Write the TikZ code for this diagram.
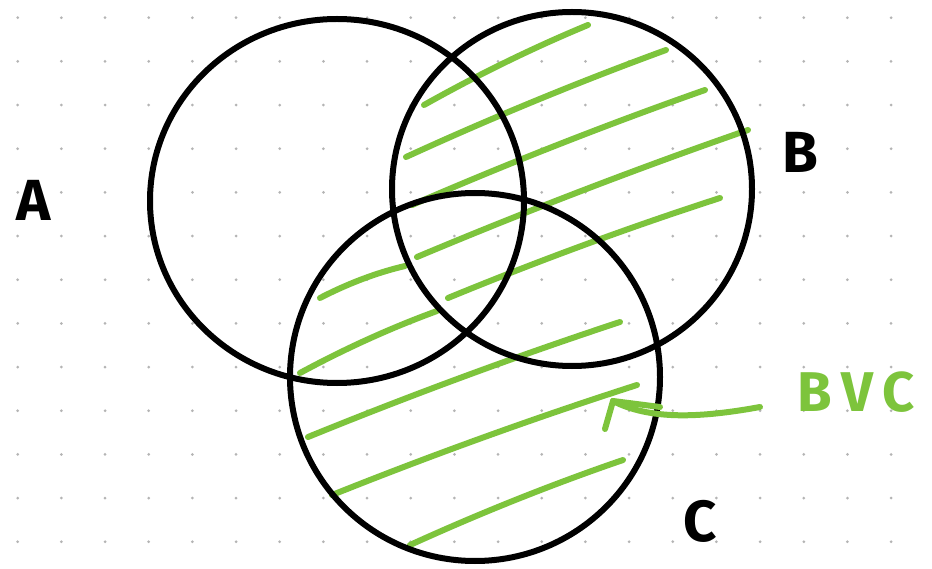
\documentclass[tikz,border=0pt]{standalone}
\usepackage{fontspec}
\setmainfont{Fira Sans}
\usetikzlibrary{calc}
\definecolor{hatch}{RGB}{125,196,60}
\definecolor{dotgray}{RGB}{180,180,180}
\tikzset{
  ring/.style={draw=black,line width=6pt},
  hline/.style={draw=hatch,line width=6pt,line cap=round,line join=round},
  lbl/.style={inner sep=0pt,font=\fontsize{58}{58}\selectfont\bfseries},
}
\newcommand{\stroke}[2]{\draw[hline] (#1) .. controls ($(#1)!0.33!(#2)+(0,-4)$) and ($(#1)!0.67!(#2)+(0,-4)$) .. (#2);}
\begin{document}
\begin{tikzpicture}[x=1pt,y=-1pt]
\useasboundingbox (0,0) rectangle (932,569);
\fill[white] (0,0) rectangle (932,569);
% dot grid
\foreach \i in {0,...,20}{
  \foreach \j in {0,...,12}{
    \fill[dotgray] ({17.7+43.67*\i},{17.7+43.67*\j}) circle (1.5);
  }
}
% green hatching
\coordinate (h1a) at (424,105); \coordinate (h1b) at (588,25);
\coordinate (h2a) at (406,157); \coordinate (h2b) at (666,50);
\coordinate (h3a) at (412,205); \coordinate (h3b) at (705,90);
\coordinate (h4a) at (417,257); \coordinate (h4b) at (748,130);
\coordinate (h5a) at (320,298); \coordinate (h5b) at (405,266);
\coordinate (h6a) at (448,298); \coordinate (h6b) at (720,198);
\coordinate (h7a) at (300,373); \coordinate (h7b) at (437,311);
\coordinate (h8a) at (308,437); \coordinate (h8b) at (620,322);
\coordinate (h9a) at (332,495); \coordinate (h9b) at (637,385);
\coordinate (h10a) at (410,545); \coordinate (h10b) at (623,460);
\stroke{h1a}{h1b}
\stroke{h2a}{h2b}
\stroke{h3a}{h3b}
\stroke{h4a}{h4b}
\stroke{h5a}{h5b}
\stroke{h6a}{h6b}
\stroke{h7a}{h7b}
\stroke{h8a}{h8b}
\stroke{h9a}{h9b}
\stroke{h10a}{h10b}
% circles
\draw[ring] (337,201) ellipse [x radius=187, y radius=182];
\draw[ring] (572,189) ellipse [x radius=180, y radius=177];
\draw[ring] (475,377) ellipse [x radius=185, y radius=184];
% labels
\node[lbl,anchor=center] (la) at (34,200) {A};
\node[lbl,anchor=center] (lb) at (800,152) {B};
\node[lbl,anchor=center] (lc) at (700,521) {C};
\node[anchor=center,inner sep=0pt,text=hatch,font=\fontsize{56}{56}\selectfont\bfseries] (lbvc) at (856,392) {B\,V\,C};
% arrow
\coordinate (tail) at (760,407);
\coordinate (tip) at (613,401);
\draw[hline] (tail) .. controls (700,418) and (650,420) .. (tip);
\draw[hline] (tip) -- (605,429);
\draw[hline] (tip) -- (660,407);
\end{tikzpicture}
\end{document}
